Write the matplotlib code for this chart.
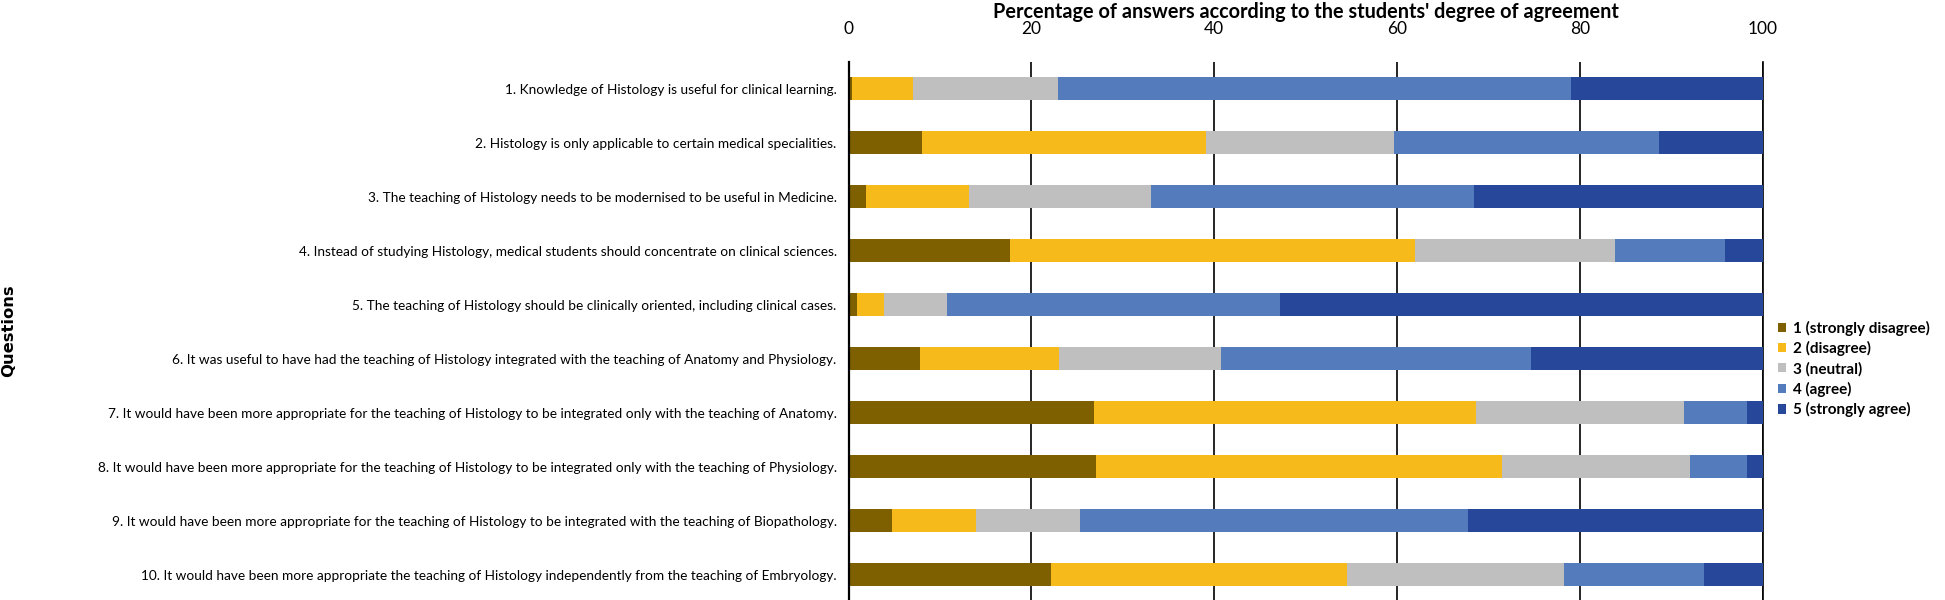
import matplotlib
matplotlib.use("Agg")
import matplotlib.pyplot as plt
import numpy as np

questions = [
    "1. Knowledge of Histology is useful for clinical learning.",
    "2. Histology is only applicable to certain medical specialities.",
    "3. The teaching of Histology needs to be modernised to be useful in Medicine.",
    "4. Instead of studying Histology, medical students should concentrate on clinical sciences.",
    "5. The teaching of Histology should be clinically oriented, including clinical cases.",
    "6. It was useful to have had the teaching of Histology integrated with the teaching of Anatomy and Physiology.",
    "7. It would have been more appropriate for the teaching of Histology to be integrated only with the teaching of Anatomy.",
    "8. It would have been more appropriate for the teaching of Histology to be integrated only with the teaching of Physiology.",
    "9. It would have been more appropriate for the teaching of Histology to be integrated with the teaching of Biopathology.",
    "10. It would have been more appropriate the teaching of Histology independently from the teaching of Embryology.",
]

series_names = ["1 (strongly disagree)", "2 (disagree)", "3 (neutral)", "4 (agree)", "5 (strongly agree)"]

strongly_disagree = [0.4, 8.0, 1.9, 17.7, 0.9, 7.8, 26.8, 27.1, 4.8, 22.1]
disagree          = [6.7, 31.1, 11.3, 44.2, 3.0, 15.2, 41.8, 44.4, 9.1, 32.4]
neutral           = [15.8, 20.5, 19.9, 21.9, 6.9, 17.7, 22.8, 20.5, 11.4, 23.7]
agree             = [56.1, 29.0, 35.3, 12.0, 36.4, 33.9, 6.9, 6.3, 42.4, 15.3]
strongly_agree    = [21.0, 11.4, 31.6, 4.2, 52.8, 25.4, 1.7, 1.7, 32.3, 6.5]

colors = ["#7F6000", "#F6BA1B", "#BFBFBF", "#547BBB", "#27479A"]

x_ticks = [0, 20, 40, 60, 80, 100]
title = "Percentage of answers according to the students' degree of agreement"
ylabel = "Questions"

W, H = 1945, 600
fig = plt.figure(figsize=(W / 100, H / 100), dpi=100)
ax = fig.add_axes([848.5 / W, -1.7 / H, (1763 - 848.5) / W, (601.7 - 61.7) / H])

label_font = ["Lato", "DejaVu Sans"]

y = np.arange(len(questions))
left = np.zeros(len(questions))
all_series = [strongly_disagree, disagree, neutral, agree, strongly_agree]
for vals, name, col in zip(all_series, series_names, colors):
    vals = np.array(vals)
    ax.barh(y, vals, left=left, height=0.42, color=col, label=name, zorder=3)
    left += vals

ax.set_xlim(0, 100)
ax.set_ylim(len(questions) - 0.5, -0.5)
ax.set_yticks(y)
ax.set_yticklabels(questions, fontsize=9.8, family=label_font)
ax.tick_params(axis="y", length=0, pad=8.5)
ax.xaxis.tick_top()
ax.set_xticks(x_ticks)
ax.set_xticklabels([str(t) for t in x_ticks], fontsize=12.5, family=label_font)
ax.tick_params(axis="x", length=0, pad=18)

ax.grid(axis="x", color="black", linewidth=1.2, zorder=0)
ax.grid(axis="y", visible=False)
ax.set_axisbelow(True)
for s in ["top", "right", "bottom"]:
    ax.spines[s].set_visible(False)
ax.spines["left"].set_linewidth(1.6)
ax.spines["left"].set_zorder(4)
ax.axvline(100, color="black", linewidth=1.2, zorder=0, clip_on=False)

fig.text((848.5 + 1763) / 2 / W, 1 - 12.5 / H, title, ha="center", va="center",
         fontsize=14.3, fontweight="bold", family=label_font)
fig.text(9 / W, 1 - 331 / H, ylabel, rotation=90, ha="center", va="center",
         fontsize=11.8, fontweight="bold", family=["DejaVu Sans"])

leg = fig.legend(loc="center left", bbox_to_anchor=(1778 / W, 1 - 369 / H),
                 frameon=False, prop={"family": label_font, "weight": "bold", "size": 11},
                 handlelength=0.55, handleheight=0.55, handletextpad=0.45,
                 labelspacing=0.36, borderpad=0, borderaxespad=0)

fig.savefig("out.png", dpi=100)
